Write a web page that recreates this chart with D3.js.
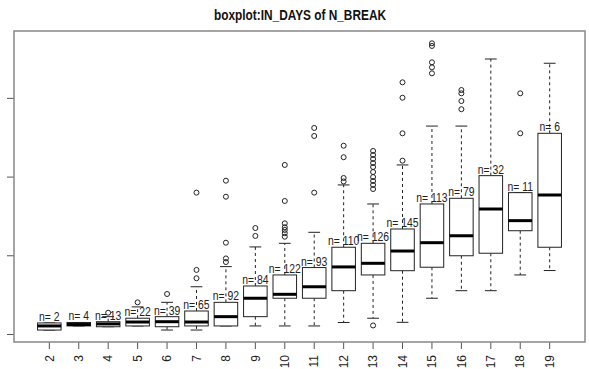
<!DOCTYPE html>
<html>
<head>
<meta charset="utf-8">
<script src="https://cdn.jsdelivr.net/npm/d3@7"></script>
<style>
body { margin: 0; background: #fff; }
svg { display: block; }
</style>
</head>
<body>
<div id="chart"></div>
<script>
// groups of N_BREAK and the box statistics of IN_DAYS
const groups = ["2","3","4","5","6","7","8","9","10","11","12","13","14","15","16","17","18","19"];
const nCounts = [2,4,13,22,39,65,92,84,122,93,110,126,145,113,79,32,11,6];
const whiskerLow  = [25,51,46,51,25,25,51,51,51,51,73,100,74,227,275,275,375,403];
const q1          = [25,51,46,51,46,51,51,110,227,227,275,375,402,424,497,513,656,551];
const medians     = [51,60,64,76,78,76,110,227,252,300,426,449,527,580,624,794,720,883];
const q3          = [70,73,78,100,110,146,201,305,375,422,551,576,667,826,862,1006,898,1275];
const whiskerHigh = [70,73,110,172,201,300,428,553,576,646,947,826,1074,1321,1321,1747,898,1720];
const outliers = [
    [], [], [135], [201], [254],
    [354,407,898],
    [457,480,580,872,974],
    [623,673],
    [618,640,661,678,703,845,1074],
    [898,1258,1309],
    [969,991,1123,1196],
    [54,921,947,972,997,1029,1061,1086,1112,1137,1163],
    [1101,1275,1501,1599],
    [1656,1694,1726,1830,1847],
    [1428,1480,1529,1550],
    [],
    [1275,1529],
    []
];
const yTicks = [0, 500, 1000, 1500];

width = 589
height = 369
margin = ({top: 31, right: 4, bottom: 27, left: 14})

const svg = d3.select("#chart").append("svg")
    .attr("width", width)
    .attr("height", height)
    .style("font-family", "'Liberation Sans', Arial, sans-serif");

x = d3.scaleBand()
    .domain(groups)
    .range([margin.left, width - margin.right])
    .paddingInner(0.2)
    .paddingOuter(0.8)
y = d3.scaleLinear()
    .domain([-51, 1925])
    .range([height - margin.bottom, margin.top])

const bw = x.bandwidth();
const cx = g => x(g) + bw / 2;

const stats = groups.map((g, i) => ({
    g: g, n: nCounts[i], lo: whiskerLow[i], q1: q1[i], med: medians[i],
    q3: q3[i], hi: whiskerHigh[i], out: outliers[i]
}));

// axes
svg.append("g")
    .attr("transform", `translate(${margin.left},0)`)
    .call(d3.axisLeft(y).tickValues(yTicks).tickSize(7).tickFormat(""))
    .call(g => g.select(".domain").remove())
    .selectAll("line").attr("stroke", "#555");

const xAxis = svg.append("g")
    .attr("transform", `translate(0,${height - margin.bottom})`)
    .call(d3.axisBottom(x).tickSize(7).tickSizeOuter(0).tickPadding(0))
    .call(g => g.select(".domain").remove());
xAxis.selectAll("line").attr("stroke", "#555");
xAxis.selectAll("text")
    .attr("fill", "#222")
    .style("font-size", "12px")
    .attr("text-anchor", "end")
    .attr("x", 0)
    .attr("y", 0)
    .attr("dy", "0.35em")
    .attr("transform", "translate(0,13) rotate(-90)");

const box = svg.append("g").selectAll(".box")
    .data(stats)
    .enter().append("g")
    .attr("class", "box");

// whiskers
box.append("line")
    .attr("x1", d => cx(d.g)).attr("x2", d => cx(d.g))
    .attr("y1", d => y(d.q3)).attr("y2", d => y(d.hi))
    .attr("stroke", "#222").attr("stroke-dasharray", "3,3");
box.append("line")
    .attr("x1", d => cx(d.g)).attr("x2", d => cx(d.g))
    .attr("y1", d => y(d.q1)).attr("y2", d => y(d.lo))
    .attr("stroke", "#222").attr("stroke-dasharray", "3,3");
// staples
box.append("line")
    .attr("x1", d => cx(d.g) - bw / 4).attr("x2", d => cx(d.g) + bw / 4)
    .attr("y1", d => y(d.hi)).attr("y2", d => y(d.hi))
    .attr("stroke", "#222");
box.append("line")
    .attr("x1", d => cx(d.g) - bw / 4).attr("x2", d => cx(d.g) + bw / 4)
    .attr("y1", d => y(d.lo)).attr("y2", d => y(d.lo))
    .attr("stroke", "#222");

box.append("rect")
    .attr("x", d => x(d.g))
    .attr("width", bw)
    .attr("y", d => y(d.q3))
    .attr("height", d => y(d.q1) - y(d.q3))
    .attr("fill", "#fff")
    .attr("stroke", "#222");

box.append("line")
    .attr("x1", d => x(d.g)).attr("x2", d => x(d.g) + bw)
    .attr("y1", d => y(d.med)).attr("y2", d => y(d.med))
    .attr("stroke", "#000").attr("stroke-width", 3);

box.selectAll("circle")
    .data(d => d.out.map(v => ({g: d.g, v: v})))
    .enter().append("circle")
    .attr("cx", d => cx(d.g))
    .attr("cy", d => y(d.v))
    .attr("r", 2.5)
    .attr("fill", "none")
    .attr("stroke", "#222");

// n= labels on top of each box
svg.append("g").selectAll("text")
    .data(stats)
    .enter().append("text")
    .attr("transform", d => `translate(${cx(d.g)},${y(d.q3) - 2}) scale(0.8,1)`)
    .attr("text-anchor", "middle")
    .attr("fill", "#222")
    .style("font-size", "13px")
    .text(d => "n= " + d.n);

// frame
svg.append("rect")
    .attr("x", margin.left)
    .attr("y", margin.top)
    .attr("width", width - margin.left - margin.right)
    .attr("height", height - margin.top - margin.bottom)
    .attr("fill", "none")
    .attr("stroke", "#888")
    .attr("stroke-width", 1.5);

svg.append("text")
    .attr("x", 300)
    .attr("y", 20)
    .attr("text-anchor", "middle")
    .attr("textLength", 172)
    .attr("lengthAdjust", "spacingAndGlyphs")
    .style("font-size", "14px")
    .style("font-weight", "bold")
    .attr("fill", "#111")
    .text("boxplot:IN_DAYS of N_BREAK");
</script>
</body>
</html>
